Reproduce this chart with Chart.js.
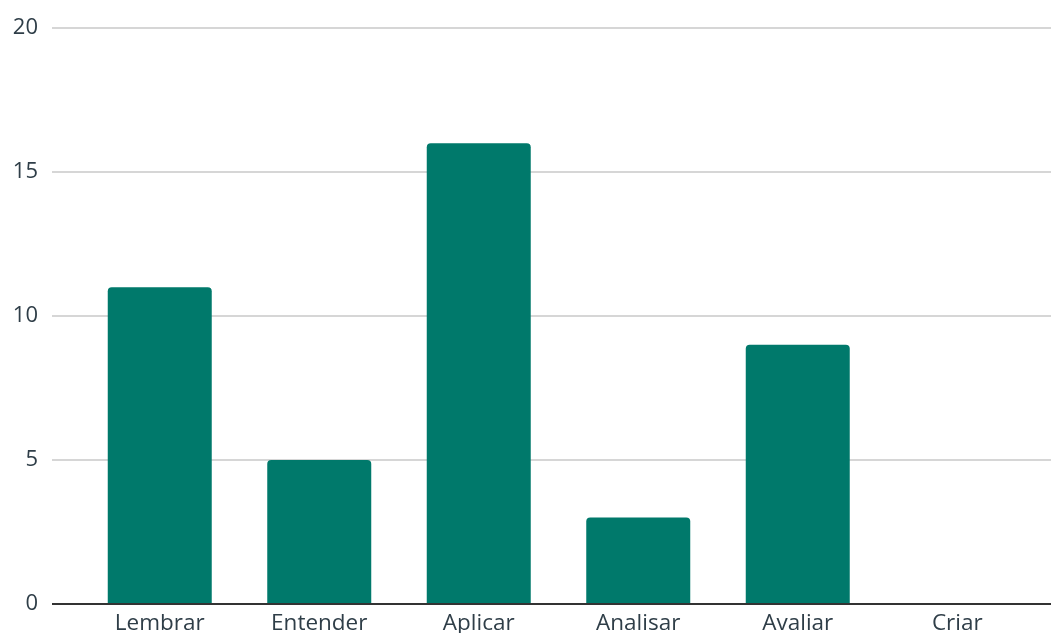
<!DOCTYPE html>
<html>
<head>
<meta charset="utf-8">
<script src="https://cdn.jsdelivr.net/npm/chart.js@4/dist/chart.umd.min.js"></script>
<style>
  html, body { margin: 0; padding: 0; background: #ffffff; overflow: hidden; }
  #wrap { position: relative; width: 1051px; height: 649px; }
</style>
</head>
<body>
<div id="wrap"><canvas id="c"></canvas></div>
<script>
const categories = ["Lembrar", "Entender", "Aplicar", "Analisar", "Avaliar", "Criar"];
const values = [11, 5, 16, 3, 9, 0];
const yTicks = [0, 5, 10, 15, 20];

const textColor = '#2f3e48';
const fontFamily = "'Open Sans', 'Noto Sans', sans-serif";

new Chart(document.getElementById('c'), {
  type: 'bar',
  data: {
    labels: categories,
    datasets: [{
      data: values,
      backgroundColor: '#00796b',
      borderRadius: 4,
      borderSkipped: 'start',
      categoryPercentage: 1,
      barPercentage: 0.652
    }]
  },
  options: {
    responsive: true,
    maintainAspectRatio: false,
    animation: false,
    layout: { padding: { top: 28, left: 0, right: 0, bottom: 0 } },
    plugins: { legend: { display: false }, tooltip: { enabled: false } },
    scales: {
      x: {
        grid: { display: false, drawTicks: false },
        border: { display: false },
        ticks: {
          color: textColor,
          font: { family: fontFamily, size: 22.5 },
          padding: 6.5,
          maxRotation: 0
        },
        afterFit(scale) { scale.height = 45; }
      },
      y: {
        position: 'left',
        min: 0,
        max: 20,
        afterBuildTicks(scale) { scale.ticks = yTicks.map(v => ({ value: v })); },
        grid: {
          color: ctx => (ctx.tick && ctx.tick.value === 0) ? '#333333' : '#d6d6d6',
          lineWidth: 2,
          tickLength: 28
        },
        border: { display: false },
        ticks: {
          color: textColor,
          font: { family: fontFamily, size: 22 },
          padding: 14
        },
        afterFit(scale) { scale.width = 80; }
      },
      yRight: {
        position: 'right',
        min: 0,
        max: 20,
        afterBuildTicks(scale) { scale.ticks = yTicks.map(v => ({ value: v })); },
        grid: {
          color: ctx => (ctx.tick && ctx.tick.value === 0) ? '#333333' : '#d6d6d6',
          lineWidth: 2,
          tickLength: 14,
          drawOnChartArea: false
        },
        border: { display: false },
        ticks: { display: false },
        afterFit(scale) { scale.width = 14; }
      }
    }
  }
});
</script>
</body>
</html>
